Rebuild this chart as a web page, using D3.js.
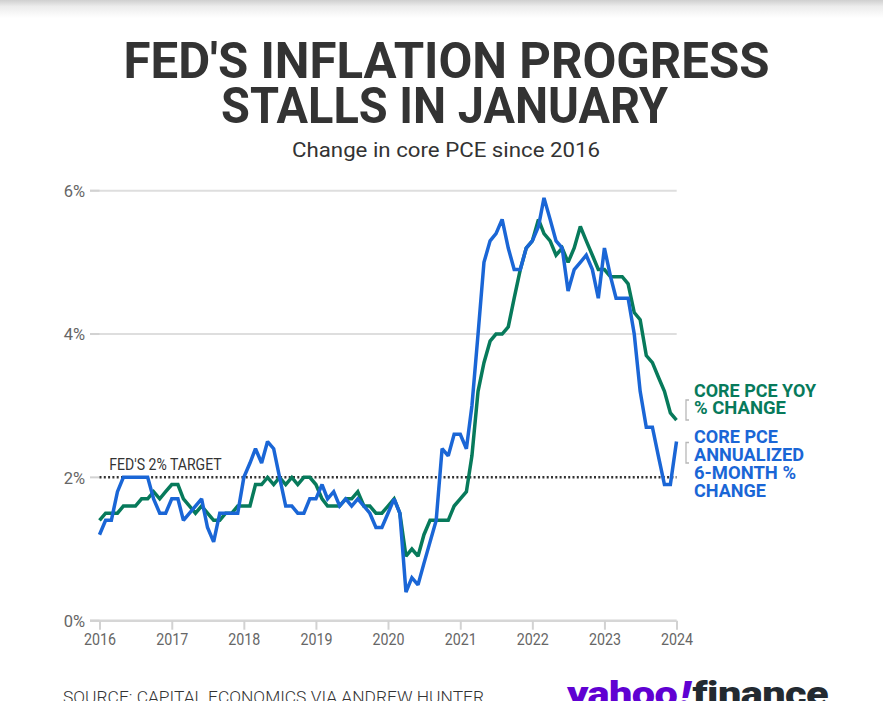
<!DOCTYPE html>
<html><head><meta charset="utf-8">
<script src="https://cdn.jsdelivr.net/npm/d3@7"></script>
<style>body{margin:0;background:#fff;overflow:hidden;} svg{display:block;}</style>
</head><body>
<svg id="c" width="883" height="701"></svg>
<script>
// ---- data (monthly, Jan 2016 .. Jan 2024) ----
const startYear = 2016;
const startMonth = 0;
const yoyValues = [
  1.4,1.5,1.5,1.5,1.6,1.6,1.6,1.7,1.7,1.8,1.7,1.8,
  1.9,1.9,1.7,1.6,1.5,1.6,1.5,1.4,1.4,1.5,1.5,1.6,
  1.6,1.6,1.9,1.9,2.0,1.9,2.0,1.9,2.0,1.9,2.0,2.0,
  1.9,1.7,1.6,1.6,1.6,1.7,1.7,1.8,1.6,1.6,1.5,1.5,
  1.6,1.7,1.5,0.9,1.0,0.9,1.2,1.4,1.4,1.4,1.4,1.6,
  1.7,1.8,2.3,3.2,3.6,3.9,4.0,4.0,4.1,4.5,4.9,5.2,
  5.3,5.6,5.4,5.3,5.1,5.2,5.0,5.2,5.5,5.3,5.1,4.9,
  4.9,4.8,4.8,4.8,4.7,4.3,4.2,3.7,3.6,3.4,3.2,2.9,
  2.8
];
const sixMonthValues = [
  1.2,1.4,1.4,1.8,2.0,2.0,2.0,2.0,2.0,1.7,1.5,1.5,
  1.7,1.7,1.4,1.5,1.6,1.7,1.3,1.1,1.5,1.5,1.5,1.5,
  2.0,2.2,2.4,2.2,2.5,2.4,2.0,1.6,1.6,1.5,1.5,1.7,
  1.7,1.9,1.7,1.8,1.6,1.7,1.6,1.7,1.6,1.5,1.3,1.3,
  1.5,1.7,1.5,0.4,0.6,0.5,0.8,1.1,1.4,2.4,2.3,2.6,
  2.6,2.4,3.0,4.0,5.0,5.3,5.4,5.6,5.2,4.9,4.9,5.2,
  5.3,5.5,5.9,5.6,5.3,5.2,4.6,4.9,5.0,5.1,4.9,4.5,
  5.2,4.8,4.5,4.5,4.5,4.0,3.2,2.7,2.7,2.3,1.9,1.9,
  2.5
];
const yearTicks = [2016,2017,2018,2019,2020,2021,2022,2023,2024];
const yTickValues = [0,2,4,6];
const gridValues = [4,6];
const targetValue = 2;
const titleLines = ["FED'S INFLATION PROGRESS", "STALLS IN JANUARY"];
const subtitle = "Change in core PCE since 2016";
const targetLabel = "FED'S 2% TARGET";
const yoyLabel = ["CORE PCE YOY", "% CHANGE"];
const sixLabel = ["CORE PCE", "ANNUALIZED", "6-MONTH %", "CHANGE"];
const sourceText = "SOURCE: CAPITAL ECONOMICS VIA ANDREW HUNTER";

// ---- styles ----
const GREEN = "#077a5b", BLUE = "#1a66d6", TEXT = "#333333", AXIS = "#666666";
const FONT = "Roboto, 'Noto Sans', sans-serif";

const svg = d3.select("#c");
const dates = yoyValues.map((_, i) => new Date(startYear, startMonth + i, 1));

const x = d3.scaleTime()
  .domain([new Date(2016,0,1), new Date(2024,0,1)])
  .range([99.5, 676.5]);
const y = d3.scaleLinear().domain([0,6]).range([620.7,190.7]);

// top shadow
const defs = svg.append("defs");
const g0 = defs.append("linearGradient").attr("id","sh").attr("x1",0).attr("x2",0).attr("y1",0).attr("y2",1);
g0.append("stop").attr("offset",0).attr("stop-color","#cfcfcf");
g0.append("stop").attr("offset",0.35).attr("stop-color","#ececec");
g0.append("stop").attr("offset",1).attr("stop-color","#ffffff");
svg.append("rect").attr("x",0).attr("y",0).attr("width",883).attr("height",18).attr("fill","url(#sh)");

// title
svg.append("text").attr("x",446.5).attr("y",78).attr("text-anchor","middle")
  .attr("font-family",FONT).attr("font-weight",700).attr("font-size",50.5).attr("fill",TEXT)
  .attr("textLength",646).attr("lengthAdjust","spacingAndGlyphs").text(titleLines[0]);
svg.append("text").attr("x",444.5).attr("y",123).attr("text-anchor","middle")
  .attr("font-family",FONT).attr("font-weight",700).attr("font-size",50.5).attr("fill",TEXT)
  .attr("textLength",447).attr("lengthAdjust","spacingAndGlyphs").text(titleLines[1]);
svg.append("text").attr("x",446).attr("y",157).attr("text-anchor","middle")
  .attr("font-family",FONT).attr("font-weight",400).attr("font-size",20.5).attr("fill",TEXT)
  .attr("textLength",308).attr("lengthAdjust","spacingAndGlyphs").text(subtitle);

// gridlines
svg.append("g").selectAll("line").data(gridValues).join("line")
  .attr("x1",90).attr("x2",676.7).attr("y1",d=>y(d)).attr("y2",d=>y(d))
  .attr("stroke","#dedede").attr("stroke-width",2);
// baseline
svg.append("line").attr("x1",90).attr("x2",676.7).attr("y1",y(0)).attr("y2",y(0))
  .attr("stroke","#d6d6d6").attr("stroke-width",2.5);
// y tick stubs
svg.append("g").selectAll("line").data(yTickValues).join("line")
  .attr("x1",90).attr("x2",99.5).attr("y1",d=>y(d)).attr("y2",d=>y(d))
  .attr("stroke","#d2d2d2").attr("stroke-width",2);

// y axis labels
const yAxis = d3.axisLeft(y).tickValues(yTickValues).tickFormat(d=>d+"%").tickSize(0).tickPadding(0);
const yg = svg.append("g").attr("transform","translate(85,0)").call(yAxis);
yg.select(".domain").remove();
yg.selectAll("text").attr("font-family",FONT).attr("font-size",16.5).attr("fill",AXIS).attr("dy","0.35em");

// x axis
const xAxis = d3.axisBottom(x).tickValues(yearTicks.map(yr=>new Date(yr,0,1)))
  .tickFormat(d3.timeFormat("%Y")).tickSize(9).tickPadding(4);
const xg = svg.append("g").attr("transform",`translate(0,${y(0)})`).call(xAxis);
xg.select(".domain").remove();
xg.selectAll("line").attr("stroke","#d2d2d2").attr("stroke-width",2);
xg.selectAll("text").attr("font-family",FONT).attr("font-size",16).attr("fill",AXIS)
  .attr("textLength",32).attr("lengthAdjust","spacingAndGlyphs");

// target line
svg.append("line").attr("x1",x(new Date(2016,0,1))).attr("x2",x(new Date(2024,0,1)))
  .attr("y1",y(targetValue)).attr("y2",y(targetValue))
  .attr("stroke","#333").attr("stroke-width",2.5).attr("stroke-dasharray","2,2.3");
svg.append("text").attr("x",109.3).attr("y",470).attr("font-family",FONT).attr("font-size",16)
  .attr("fill",TEXT).attr("textLength",112.4).attr("lengthAdjust","spacingAndGlyphs").text(targetLabel);

// lines
const line = d3.line().x((d,i)=>x(dates[i])).y(d=>y(d)).curve(d3.curveLinear);
svg.append("path").datum(yoyValues).attr("d",line).attr("fill","none")
  .attr("stroke",GREEN).attr("stroke-width",3.5).attr("stroke-linejoin","miter").attr("stroke-miterlimit",2);
svg.append("path").datum(sixMonthValues).attr("d",line).attr("fill","none")
  .attr("stroke",BLUE).attr("stroke-width",3.5).attr("stroke-linejoin","miter").attr("stroke-miterlimit",2);

// labels with brackets
function bracket(y1,y2){
  svg.append("path").attr("d",`M689,${y1}H686V${y2}H689`).attr("fill","none")
    .attr("stroke","#b8b8b8").attr("stroke-width",1.3);
}
bracket(400,420);
bracket(442.5,463);
const yoyW = [122,92], sixW = [84,110,102,72];
svg.append("g").selectAll("text").data(yoyLabel).join("text")
  .attr("x",694).attr("y",(d,i)=>397+i*17.3).attr("font-family",FONT).attr("font-weight",700)
  .attr("font-size",18.5).attr("fill",GREEN).attr("textLength",(d,i)=>yoyW[i]).attr("lengthAdjust","spacingAndGlyphs").text(d=>d);
svg.append("g").selectAll("text").data(sixLabel).join("text")
  .attr("x",694).attr("y",(d,i)=>443.3+i*17.8).attr("font-family",FONT).attr("font-weight",700)
  .attr("font-size",18.5).attr("fill",BLUE).attr("textLength",(d,i)=>sixW[i]).attr("lengthAdjust","spacingAndGlyphs").text(d=>d);

// source
svg.append("text").attr("x",63).attr("y",703).attr("font-family",FONT).attr("font-weight",300)
  .attr("font-size",17).attr("fill",TEXT).attr("textLength",421).attr("lengthAdjust","spacingAndGlyphs").text(sourceText);

// logo
const logo = svg.append("text").attr("x",567).attr("y",706).attr("font-family","Roboto, sans-serif")
  .attr("font-weight",900).attr("font-size",35).attr("letter-spacing",-0.5);
logo.append("tspan").attr("fill","#6001d2").text("yahoo");
logo.append("tspan").attr("fill","#6001d2").attr("font-style","italic").attr("dx",2).text("!");
logo.append("tspan").attr("fill","#232a31").attr("dx",2).text("finance");
logo.attr("textLength",261).attr("lengthAdjust","spacingAndGlyphs");
</script>
</body></html>
